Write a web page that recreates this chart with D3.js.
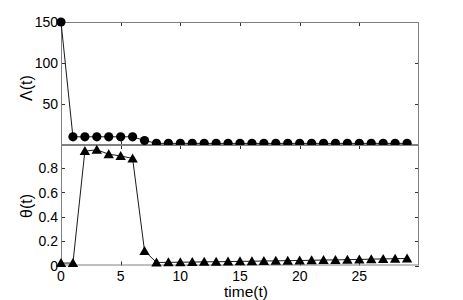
<!DOCTYPE html>
<html><head><meta charset="utf-8">
<script src="https://cdn.jsdelivr.net/npm/d3@7"></script>
<style>
html,body{margin:0;padding:0;background:#fff;}
svg text{font-family:"Liberation Sans",Arial,sans-serif;fill:#000;}
</style></head>
<body><svg id="c" width="463" height="300"></svg>
<script>
const time = d3.range(0, 30);
const lambdaValues = [150, 10, 10, 10, 10, 10, 10, 5.5, 2, 2, 2, 2, 2, 2, 2, 2, 2, 2, 2, 2, 2, 2, 2, 2, 2, 2, 2, 2, 2, 2];
const thetaValues = [0.02, 0.02, 0.94, 0.95, 0.915, 0.9, 0.88, 0.12,
  0.025, 0.026, 0.027, 0.028, 0.03, 0.031, 0.032, 0.034, 0.035, 0.037, 0.038, 0.04, 0.041,
  0.043, 0.045, 0.046, 0.048, 0.05, 0.052, 0.054, 0.056, 0.058];
const xTicks = [0, 5, 10, 15, 20, 25];
const lambdaTicks = [50, 100, 150];
const thetaTicks = [0, 0.2, 0.4, 0.6, 0.8];

const svg = d3.select("#c");
const L = 61, R = 419;
const x = d3.scaleLinear().domain([0, 30]).range([L, R]);
const yTop = d3.scaleLinear().domain([0, 150]).range([145, 22]);
const yBot = d3.scaleLinear().domain([0, 0.99]).range([265.5, 145]);
const fs = 14;

function panel(g, y, yTicks, showX, fmt) {
  const y0 = y.range()[0], y1 = y.range()[1];
  const tk = g.append("g").attr("stroke", "#333").attr("stroke-width", 1);
  xTicks.forEach(t => {
    const xx = Math.round(x(t)) + 0.5;
    tk.append("line").attr("x1", xx).attr("x2", xx).attr("y1", y0).attr("y2", y0 - 4);
    tk.append("line").attr("x1", xx).attr("x2", xx).attr("y1", y1).attr("y2", y1 + 4);
  });
  yTicks.forEach(t => {
    const yy = Math.round(y(t)) + 0.5;
    tk.append("line").attr("x1", L).attr("x2", L + 4).attr("y1", yy).attr("y2", yy);
    tk.append("line").attr("x1", R).attr("x2", R - 4).attr("y1", yy).attr("y2", yy);
  });
  g.append("rect").attr("x", L + 0.5).attr("y", y1 + 0.5).attr("width", R - L - 1).attr("height", y0 - y1 - 1)
    .attr("fill", "none").attr("stroke", "#808080").attr("stroke-width", 1);
  yTicks.forEach(t => {
    g.append("text").attr("x", L - 3).attr("y", y(t)).attr("dy", "0.36em")
      .attr("text-anchor", "end").attr("font-size", fs).text(fmt(t));
  });
  if (showX) {
    xTicks.forEach(t => {
      g.append("text").attr("x", x(t)).attr("y", 281).attr("text-anchor", "middle")
        .attr("font-size", fs).text(t);
    });
  }
}

const triPath = "M0,-5L5.2,4L-5.2,4Z";

// top panel
const gt = svg.append("g");
panel(gt, yTop, lambdaTicks, false, d => d);
gt.append("path").datum(time).attr("fill", "none").attr("stroke", "#000").attr("stroke-width", 0.9)
  .attr("d", d3.line().x(t => x(t)).y(t => yTop(lambdaValues[t])));
gt.selectAll("circle").data(time).join("circle")
  .attr("cx", t => x(t)).attr("cy", t => yTop(lambdaValues[t])).attr("r", 4.6).attr("fill", "#000");

// bottom panel (white background covers top markers)
const gb = svg.append("g");
gb.append("rect").attr("x", L).attr("y", 145).attr("width", R - L).attr("height", 265.5 - 145).attr("fill", "#fff");
panel(gb, yBot, thetaTicks, true, d => d === 0 ? "0" : d.toString());
gb.append("path").datum(time).attr("fill", "none").attr("stroke", "#000").attr("stroke-width", 0.9)
  .attr("d", d3.line().x(t => x(t)).y(t => yBot(thetaValues[t])));
gb.selectAll("path.tri").data(time).join("path").attr("class", "tri")
  .attr("transform", t => `translate(${x(t)},${yBot(thetaValues[t])})`)
  .attr("d", triPath).attr("fill", "#000");

// labels
svg.append("text").attr("x", 246).attr("y", 297).attr("text-anchor", "middle").attr("font-size", 15.5).text("time(t)");
svg.append("text").attr("transform", "translate(32,88) rotate(-90)").attr("text-anchor", "middle").attr("font-size", 16).text("Λ(t)");
svg.append("text").attr("transform", "translate(32,206) rotate(-90)").attr("text-anchor", "middle").attr("font-size", 16).text("θ(t)");
</script></body></html>
